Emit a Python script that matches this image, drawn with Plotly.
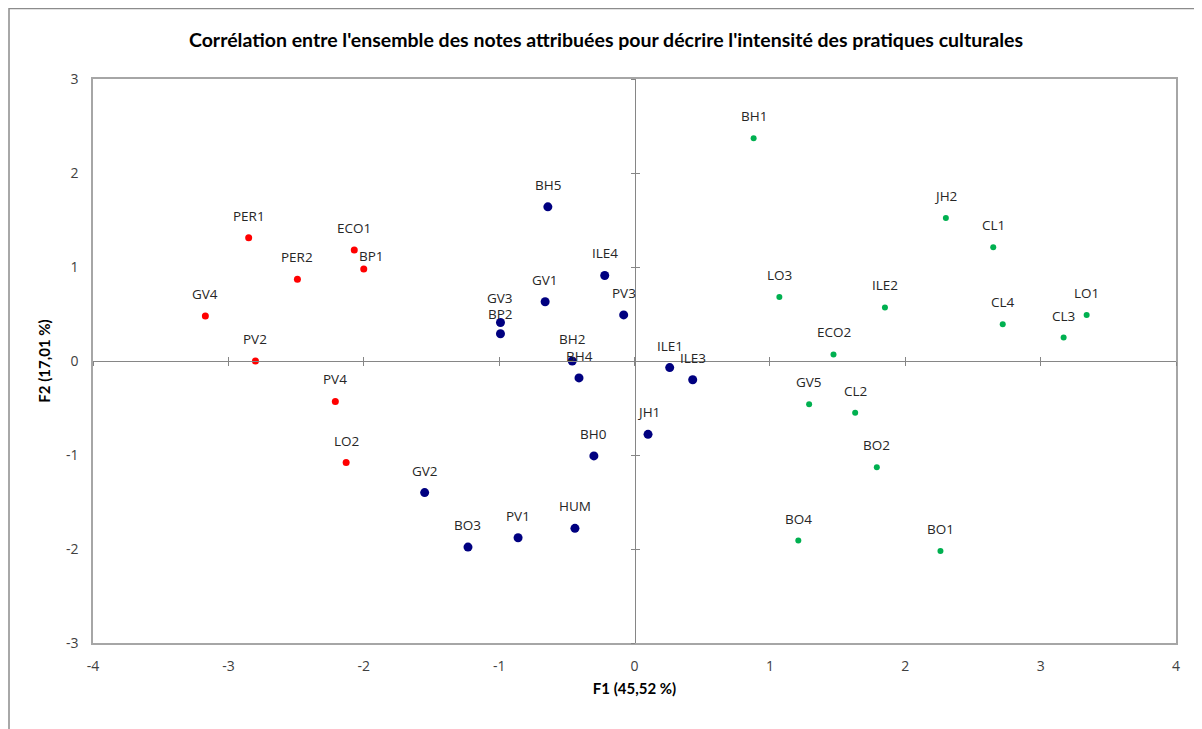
import plotly.graph_objects as go

# ---- data ----
red_labels = ["PER1", "ECO1", "BP1", "PER2", "GV4", "PV2", "PV4", "LO2"]
red_x = [-2.85, -2.07, -2.00, -2.49, -3.17, -2.80, -2.21, -2.13]
red_y = [1.31, 1.18, 0.98, 0.87, 0.48, 0.00, -0.43, -1.08]

navy_labels = ["BH5", "ILE4", "GV1", "PV3", "GV3", "BP2", "BH2", "BH4", "ILE1",
               "ILE3", "JH1", "BH0", "GV2", "BO3", "PV1", "HUM"]
navy_x = [-0.64, -0.22, -0.66, -0.08, -0.99, -0.99, -0.46, -0.41, 0.26,
          0.43, 0.10, -0.30, -1.55, -1.23, -0.86, -0.44]
navy_y = [1.64, 0.91, 0.63, 0.49, 0.41, 0.29, 0.00, -0.18, -0.07,
          -0.20, -0.78, -1.01, -1.40, -1.98, -1.88, -1.78]

green_labels = ["BH1", "JH2", "CL1", "LO3", "ILE2", "CL4", "LO1", "CL3", "ECO2",
                "GV5", "CL2", "BO2", "BO4", "BO1"]
green_x = [0.88, 2.30, 2.65, 1.07, 1.85, 2.72, 3.34, 3.17, 1.47,
           1.29, 1.63, 1.79, 1.21, 2.26]
green_y = [2.37, 1.52, 1.21, 0.68, 0.57, 0.39, 0.49, 0.25, 0.07,
           -0.46, -0.55, -1.13, -1.91, -2.02]

x_ticks = [-4, -3, -2, -1, 0, 1, 2, 3, 4]
y_ticks = [-3, -2, -1, 0, 1, 2, 3]

title_text = "Corrélation entre l'ensemble des notes attribuées pour décrire l'intensité des pratiques culturales"
x_title = "F1 (45,52 %)"
y_title = "F2 (17,01 %)"

# ---- styles ----
FONT = "Open Sans"
label_offsets = {"BP1": (8, 13), "GV3": (0, 24), "BP2": (0, 20)}   # (xshift, yshift) px
default_yshift = 22

groups = [
    (red_labels, red_x, red_y, "#FF0000", 7),
    (navy_labels, navy_x, navy_y, "#000080", 9),
    (green_labels, green_x, green_y, "#00B050", 6),
]

fig = go.Figure()
annotations = []
for labels, xs, ys, color, size in groups:
    fig.add_trace(go.Scatter(x=xs, y=ys, mode="markers", text=labels,
                             marker=dict(color=color, size=size),
                             showlegend=False, hoverinfo="text+x+y"))
    for lab, xv, yv in zip(labels, xs, ys):
        xs_, ys_ = label_offsets.get(lab, (0, default_yshift))
        annotations.append(dict(x=xv, y=yv, text=lab, showarrow=False,
                                xshift=xs_, yshift=ys_,
                                font=dict(family=FONT, size=13.5, color="#262626")))

# empty traces so the overlay axes (zero lines with cross ticks) get drawn
for xa, ya in [("x2", "y"), ("x3", "y"), ("x", "y2"), ("x", "y3")]:
    fig.add_trace(go.Scatter(x=[], y=[], xaxis=xa, yaxis=ya, showlegend=False,
                             hoverinfo="skip"))

# page body has an 8px margin, so the figure is drawn 8px in from the corner
W, H = 1194, 721
L, R, T, B = 85, 26, 71, 86
pw, ph = W - L - R, H - T - B

axis_common = dict(showgrid=False, zeroline=False)
tickfont = dict(family=FONT, size=14, color="#404040")
fig.update_layout(
    width=W, height=H,
    margin=dict(l=L, r=R, t=T, b=B, autoexpand=False),
    paper_bgcolor="white", plot_bgcolor="white",
    font=dict(family=FONT, color="#404040"),
    title=dict(text="<b>" + title_text + "</b>", x=(606 - 8) / W, xanchor="center",
               y=1 - 32 / H, yanchor="middle",
               font=dict(family="Lato", size=19.5, color="#000000")),
    xaxis=dict(range=[-4, 4], tickvals=x_ticks, ticktext=[str(v) for v in x_ticks],
               ticks="", showline=True, mirror=True, ticklabelstandoff=9,
               linecolor="#A6A6A6", linewidth=1.5, tickfont=tickfont,
               title=dict(text="<b>" + x_title + "</b>", standoff=10,
                          font=dict(family="Lato", size=15, color="#000000")),
               **axis_common),
    yaxis=dict(range=[-3, 3], tickvals=y_ticks, ticktext=[str(v) for v in y_ticks],
               ticks="", showline=True, mirror=True,
               linecolor="#A6A6A6", linewidth=1.5, ticklabelstandoff=10,
               tickfont=tickfont,
               title=dict(text="<b>" + y_title + "</b>", standoff=12,
                          font=dict(family="Lato", size=15, color="#000000")),
               **axis_common),
    xaxis2=dict(overlaying="x", anchor="free", position=0.5, range=[-4, 4],
                tickvals=x_ticks, ticks="outside", ticklen=4, tickcolor="#868686",
                showticklabels=False, showline=True, linecolor="#868686",
                linewidth=1, **axis_common),
    xaxis3=dict(overlaying="x", anchor="free", position=0.5, range=[-4, 4],
                tickvals=x_ticks, ticks="inside", ticklen=4, tickcolor="#868686",
                showticklabels=False, showline=False, **axis_common),
    yaxis2=dict(overlaying="y", anchor="free", position=0.5, range=[-3, 3],
                tickvals=y_ticks, ticks="outside", ticklen=4, tickcolor="#868686",
                showticklabels=False, showline=True, linecolor="#868686",
                linewidth=1, **axis_common),
    yaxis3=dict(overlaying="y", anchor="free", position=0.5, range=[-3, 3],
                tickvals=y_ticks, ticks="inside", ticklen=4, tickcolor="#868686",
                showticklabels=False, showline=False, **axis_common),
    annotations=annotations,
    shapes=[dict(type="rect", xref="paper", yref="paper",
                 x0=(1 - L) / pw, x1=(W + 10 - L) / pw,
                 y0=(H - B - (H + 10)) / ph, y1=(H - B - 0.5) / ph,
                 line=dict(color="#8C8C8C", width=1.5), layer="below")],
)

fig.write_html("out.html")
